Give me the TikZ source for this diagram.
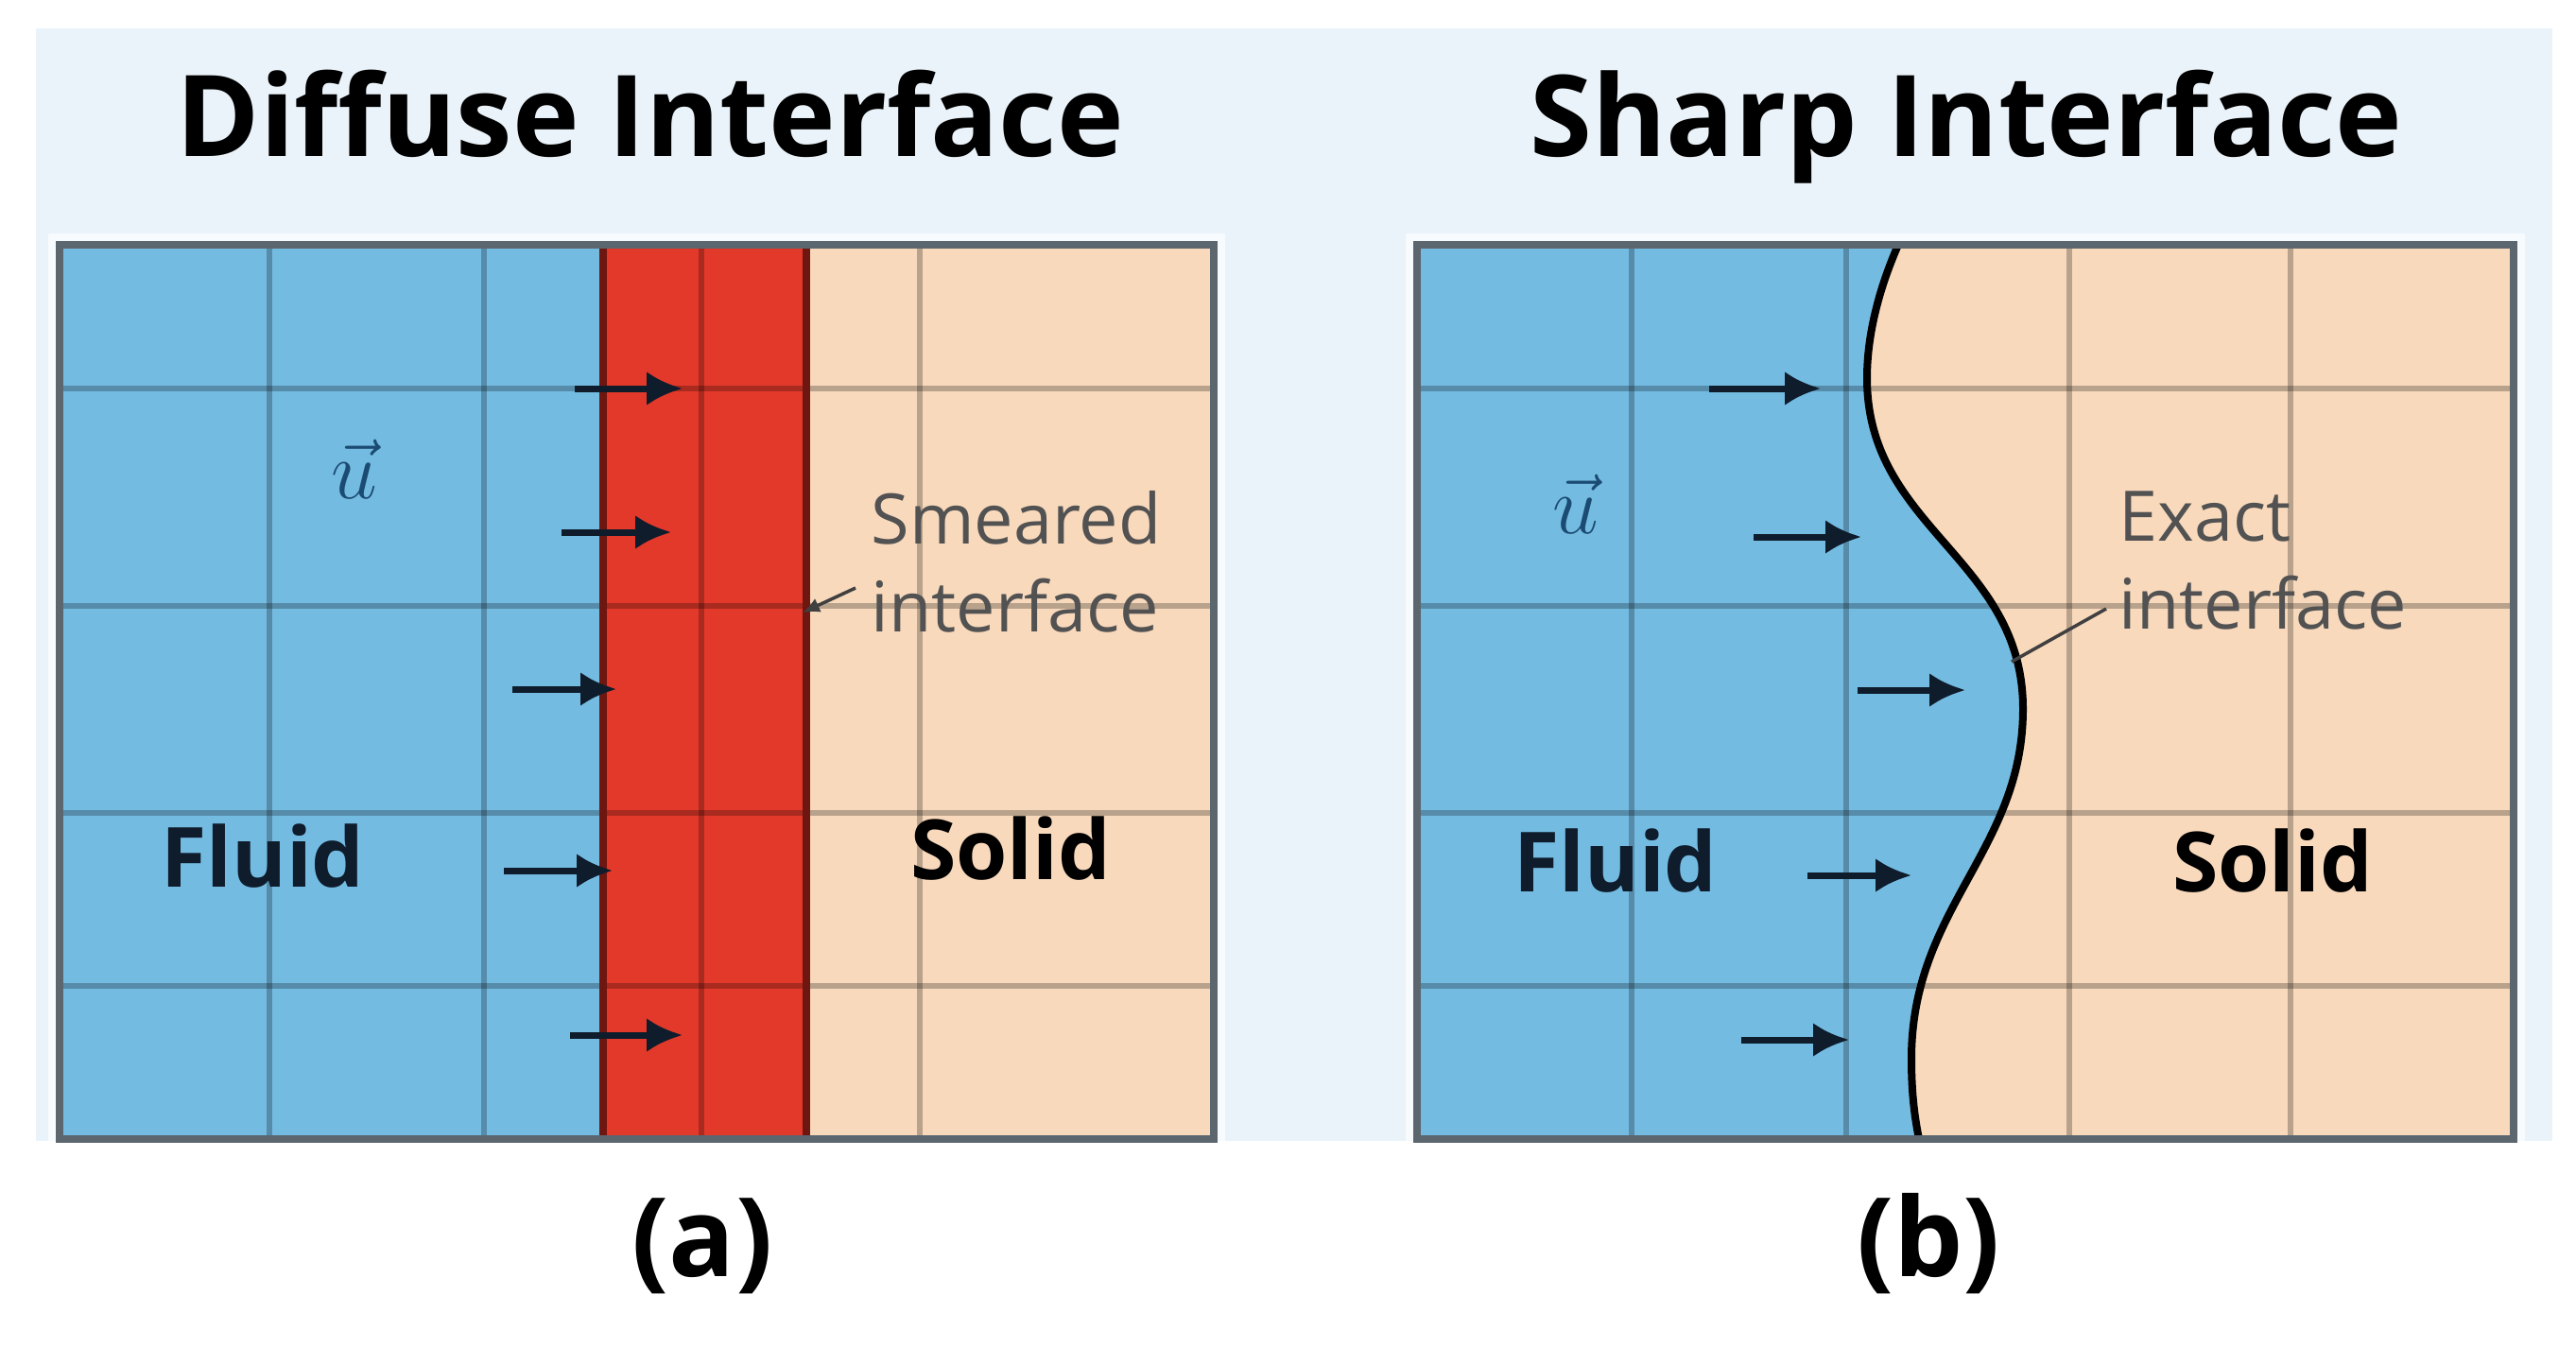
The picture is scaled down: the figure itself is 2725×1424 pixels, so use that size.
\documentclass[tikz,border=0pt]{standalone}
\usepackage{fontspec}
\setmainfont{Open Sans}
\usetikzlibrary{arrows.meta}

\definecolor{fluidblue}{HTML}{74BBE2}
\definecolor{solidpeach}{HTML}{F8D9BC}
\definecolor{smearred}{HTML}{E2392A}
\definecolor{darkred}{HTML}{6E1610}
\definecolor{panelbg}{HTML}{EAF3F9}
\definecolor{framegray}{HTML}{5B666E}
\definecolor{navy}{HTML}{0E1C2B}
\definecolor{ublue}{HTML}{1B4B72}

\begin{document}
\begin{tikzpicture}[x=0.1mm,y=-0.1mm]
		\begin{scope}[scale=1]
		
		\tikzstyle{mytitle}=[font=\fontsize{34}{40}\selectfont\bfseries,
		anchor=base,
		inner sep=0pt
		]
		\tikzstyle{myphase}=[font=\fontsize{25}{30}\selectfont\bfseries, anchor=base, inner sep=0pt]
		\tikzstyle{mycap}=[font=\fontsize{33}{38}\selectfont\bfseries, anchor=base, inner sep=0pt]
		\tikzstyle{mynote}=[font=\fontsize{21}{26.5}\selectfont, text=black!68, align=left, anchor=north west, inner sep=0pt]
		\tikzstyle{myvel}=[font=\fontsize{28}{30}\selectfont, text=ublue, inner sep=0pt]
		\tikzstyle{mygrid}=[line width=0.55mm, draw=black, draw opacity=0.25]
		\tikzstyle{myframe}=[line width=0.8mm, draw=framegray]
		\tikzstyle{myedge}=[line width=0.8mm, draw=darkred]
		\tikzstyle{mycurve}=[line width=0.8mm, draw=black]
		\tikzstyle{myarrow}=[line width=0.7mm, draw=navy, -{Latex[length=3.8mm,width=3.6mm]}]
		\tikzstyle{mylead}=[line width=0.35mm, draw=black!75]
		
		\def\sharpcurve{-- (2008,259) .. controls (1990,300) and (1975,350) .. (1975,400)
			.. controls (1975,560) and (2140,590) .. (2140,750)
			.. controls (2140,900) and (2022,960) .. (2022,1120)
			.. controls (2022,1160) and (2026,1185) .. (2030,1205)}
		
		\useasboundingbox (0,0) rectangle (2725,1424);
		\fill[white] (0,0) rectangle (2725,1424);
		\fill[panelbg] (38,30) rectangle (2700,1207);
		
		% (a) diffuse
		\fill[fluidblue] (63,259) rectangle (638,1205);
		\fill[smearred] (638,259) rectangle (853,1205);
		\fill[solidpeach] (853,259) rectangle (1284,1205);
		\draw[mygrid] (285,259) -- (285,1205);
		\draw[mygrid] (512,259) -- (512,1205);
		\draw[mygrid] (742,259) -- (742,1205);
		\draw[mygrid] (973,259) -- (973,1205);
		\draw[mygrid] (63,411) -- (1284,411);
		\draw[mygrid] (63,641) -- (1284,641);
		\draw[mygrid] (63,860) -- (1284,860);
		\draw[mygrid] (63,1043) -- (1284,1043);
		\draw[myedge] (638,259) -- (638,1205);
		\draw[myedge] (853,259) -- (853,1205);
		\draw[white, line width=0.8mm, opacity=0.7] (55,251) rectangle (1292,1213);
		\draw[myframe] (63,259) rectangle (1284,1205);
		
		% (b) sharp
		\fill[solidpeach] (1499,259) rectangle (2659,1205);
		\fill[fluidblue] (1499,259) \sharpcurve -- (1499,1205) -- cycle;
		\draw[mygrid] (1726,259) -- (1726,1205);
		\draw[mygrid] (1953,259) -- (1953,1205);
		\draw[mygrid] (2189,259) -- (2189,1205);
		\draw[mygrid] (2423,259) -- (2423,1205);
		\draw[mygrid] (1499,411) -- (2659,411);
		\draw[mygrid] (1499,641) -- (2659,641);
		\draw[mygrid] (1499,860) -- (2659,860);
		\draw[mygrid] (1499,1043) -- (2659,1043);
		\draw[mycurve] (2008,259) \sharpcurve;
		\draw[white, line width=0.8mm, opacity=0.7] (1491,251) rectangle (2667,1213);
		\draw[myframe] (1499,259) rectangle (2659,1205);
		
		\coordinate (ls1) at (608,411);
		\coordinate (le1) at (722,411);
		\coordinate (ls2) at (594,563);
		\coordinate (le2) at (710,563);
		\coordinate (ls3) at (542,729);
		\coordinate (le3) at (652,729);
		\coordinate (ls4) at (533,921);
		\coordinate (le4) at (648,921);
		\coordinate (ls5) at (603,1095);
		\coordinate (le5) at (722,1095);
		
		\coordinate (rs1) at (1808,411);
		\coordinate (re1) at (1926,411);
		\coordinate (rs2) at (1855,568);
		\coordinate (re2) at (1969,568);
		\coordinate (rs3) at (1965,730);
		\coordinate (re3) at (2079,730);
		\coordinate (rs4) at (1912,926);
		\coordinate (re4) at (2022,926);
		\coordinate (rs5) at (1842,1100);
		\coordinate (re5) at (1956,1100);
		
		\coordinate (psmear) at (849,648);
		\coordinate (qsmear) at (905,622);
		\coordinate (pexact) at (2128,700);
		\coordinate (qexact) at (2228,644);
		
		\node[mytitle] (t1) at (688,165) {Diffuse Interface};
		\node[mytitle] (t2) at (2080,165) {Sharp Interface};
		\node[mycap] (ca) at (743,1350) {(a)};
		\node[mycap] (cb) at (2040,1350) {(b)};
		
		\node[myvel] (ul) at (375,496) {$\vec{u}$};
		\node[myvel] (ur) at (1667,533) {$\vec{u}$};
		\node[myphase, text=navy] (fl) at (278,938) {Fluid};
		\node[myphase, text=black] (sl) at (1069,930) {Solid};
		\node[myphase, text=navy] (fr) at (1709,943) {Fluid};
		\node[myphase, text=black] (sr) at (2404,943) {Solid};
		\node[mynote] (smear) at (921,519) {Smeared\\interface};
		\node[mynote] (exact) at (2241,519) {Exact\\interface};
		
		\draw[myarrow] (ls1) -- (le1);
		\draw[myarrow] (ls2) -- (le2);
		\draw[myarrow] (ls3) -- (le3);
		\draw[myarrow] (ls4) -- (le4);
		\draw[myarrow] (ls5) -- (le5);
		\draw[myarrow] (rs1) -- (re1);
		\draw[myarrow] (rs2) -- (re2);
		\draw[myarrow] (rs3) -- (re3);
		\draw[myarrow] (rs4) -- (re4);
		\draw[myarrow] (rs5) -- (re5);
		
		\draw[mylead, -{Latex[length=1.8mm,width=1.6mm]}] (qsmear) -- (psmear);
		\draw[mylead] (qexact) -- (pexact);
		
		\end{scope}
\end{tikzpicture}
\end{document}
